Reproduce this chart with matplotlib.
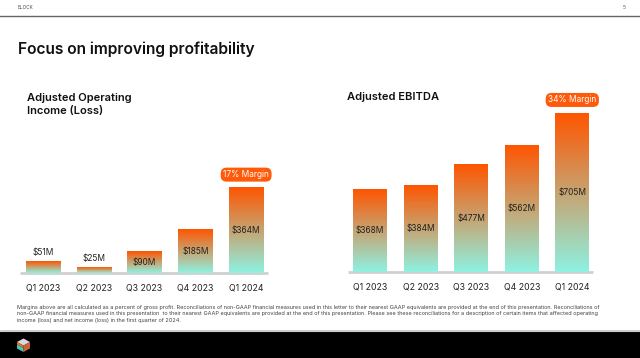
import numpy as np
import matplotlib
matplotlib.use("Agg")
import matplotlib.pyplot as plt
from matplotlib.colors import LinearSegmentedColormap
from matplotlib.patches import Rectangle, Polygon

quarters = ["Q1 2023", "Q2 2023", "Q3 2023", "Q4 2023", "Q1 2024"]
op_income = [51, 25, 90, 185, 364]
ebitda = [368, 384, 477, 562, 705]
op_margin = "17% Margin"
ebitda_margin = "34% Margin"

W, H = 640, 358
plt.rcParams['font.family'] = ['Inter', 'DejaVu Sans']
fig = plt.figure(figsize=(W / 100, H / 100), dpi=100)
fig.patch.set_facecolor("white")


def px(x, y):
    return x / W, 1 - y / H


def ax_px(x0, y0, x1, y1):
    # y0 top, y1 bottom (pixels from top)
    return fig.add_axes([x0 / W, 1 - y1 / H, (x1 - x0) / W, (y1 - y0) / H])


grad = LinearSegmentedColormap.from_list("og", ["#8ef2e2", "#ff5500"])
grad_img = np.linspace(0, 1, 256).reshape(-1, 1)


def bar_chart(ax, vals, ymax, xlim, margin, above_lim):
    ax.set_xlim(*xlim)
    ax.set_ylim(0, ymax)
    ax.axis("off")
    w = 0.67
    for i, v in enumerate(vals):
        ax.imshow(grad_img, cmap=grad, origin="lower", aspect="auto",
                  extent=(i - w / 2, i + w / 2, 0, v), zorder=2)
        lbl = f"${v}M"
        if v < above_lim:
            ax.annotate(lbl, (i, v), xytext=(0, 6.5), textcoords="offset points",
                        ha="center", va="center", fontsize=6, color="#222222")
        else:
            ax.text(i, v / 2, lbl, ha="center", va="center", fontsize=6,
                    color="#222222", zorder=3)
    ax.set_xlim(*xlim)
    ax.set_ylim(0, ymax)
    ax.plot(xlim, [0, 0], color="#d0d0d0", lw=2, zorder=1, clip_on=False,
            solid_capstyle="butt")
    last = len(vals) - 1
    ax.annotate(margin, (last, vals[last]), xytext=(0, 9.5), textcoords="offset points",
                ha="center", va="center", fontsize=6, color="white",
                bbox=dict(boxstyle="round,pad=0.3,rounding_size=0.7", fc="#ff5a0a", ec="none"),
                annotation_clip=False)
    for i, q in enumerate(quarters):
        ax.annotate(q, (i, 0), xytext=(0, -10.5), textcoords="offset points",
                    ha="center", va="center", fontsize=6.3, color="#222222",
                    annotation_clip=False)


ax1 = ax_px(20, 179.4, 268, 273)
bar_chart(ax1, op_income, 400, (-0.45, 4.43), op_margin, 60)

ax2 = ax_px(348, 103, 593, 272)
bar_chart(ax2, ebitda, 750, (-0.44, 4.41), ebitda_margin, 0)

# header
fig.text(*px(18, 7.5), "BLOCK", fontsize=3.4, color="#555555", va="center")
fig.text(*px(623, 7.5), "5", fontsize=3.6, color="#555555", va="center")
fig.add_artist(plt.Line2D([0, 1], [1 - 16 / H] * 2, color="#666666", lw=1))

fig.text(*px(18, 49), "Focus on improving profitability", fontsize=11.2,
         fontweight="semibold", color="#111111", va="center")
fig.text(*px(27, 104.5), "Adjusted Operating\nIncome (Loss)", fontsize=8,
         fontweight="semibold", color="#111111", va="center", linespacing=1.45)
fig.text(*px(347, 97), "Adjusted EBITDA", fontsize=8,
         fontweight="semibold", color="#111111", va="center")

note = ("Margins above are all calculated as a percent of gross profit. Reconciliations of non-GAAP financial measures used in this letter to their nearest GAAP equivalents are provided at the end of this presentation. Reconciliations of\n"
        "non-GAAP financial measures used in this presentation  to their nearest GAAP equivalents are provided at the end of this presentation. Please see these reconciliations for a description of certain items that affected operating\n"
        "income (loss) and net income (loss) in the first quarter of 2024.")
fig.text(*px(17, 314), note, fontsize=4.0, color="#444444", va="center", linespacing=1.35)

# footer band
fig.add_artist(Rectangle(px(0, 358), 1, 27 / H, transform=fig.transFigure,
                         color="black", zorder=0))
fig.add_artist(plt.Line2D([0, 1], [1 - 330.5 / H] * 2, color="#cccccc", lw=0.8))

# small logo
def poly(pts, c):
    fig.add_artist(Polygon([px(x, y) for x, y in pts], closed=True,
                           transform=fig.transFigure, fc=c, ec="none"))

poly([(17, 342), (23.5, 338.5), (30, 342), (23.5, 345.5)], "#d9d9d9")
poly([(17, 342), (23.5, 345.5), (23.5, 348), (17, 344.5)], "#f26b2a")
poly([(17, 344.5), (23.5, 348), (23.5, 352), (17, 348.5)], "#46c8b4")
poly([(23.5, 345.5), (30, 342), (30, 348.5), (23.5, 352)], "#c8643c")

fig.savefig("out.png", dpi=100)
